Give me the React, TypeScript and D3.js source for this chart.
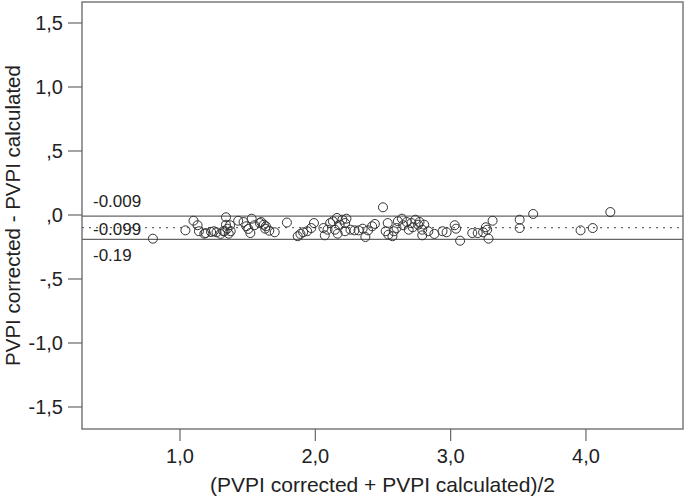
import * as d3 from 'd3';

// Bland-Altman style plot: mean of both methods vs difference
const meanValues = [
  0.80, 1.04, 1.10, 1.13, 1.14, 1.18, 1.19, 1.23, 1.25, 1.27,
  1.30, 1.32, 1.34, 1.34, 1.35, 1.33, 1.37, 1.375, 1.36, 1.43,
  1.47, 1.49, 1.505, 1.52, 1.53, 1.55, 1.59, 1.60, 1.62, 1.63,
  1.635, 1.66, 1.70, 1.79, 1.87, 1.89, 1.91, 1.94, 1.97, 1.99,
  2.06, 2.07, 2.09, 2.11, 2.13, 2.145, 2.16, 2.165, 2.18, 2.20,
  2.22, 2.23, 2.22, 2.26, 2.29, 2.32, 2.35, 2.37, 2.39, 2.42,
  2.44, 2.50, 2.52, 2.535, 2.54, 2.57, 2.58, 2.60, 2.61, 2.64,
  2.65, 2.675, 2.69, 2.71, 2.72, 2.74, 2.76, 2.77, 2.79, 2.79,
  2.805, 2.835, 2.88, 2.94, 2.97, 3.03, 3.04, 3.07, 3.16, 3.20,
  3.24, 3.26, 3.27, 3.28, 3.31, 3.51, 3.51, 3.61, 3.96, 4.05,
  4.18,
];

const diffValues = [
  -0.185, -0.120, -0.045, -0.080, -0.127, -0.146, -0.141, -0.133, -0.127, -0.135,
  -0.148, -0.127, -0.018, -0.076, -0.107, -0.127, -0.080, -0.127, -0.146, -0.045,
  -0.055, -0.088, -0.109, -0.141, -0.029, -0.080, -0.063, -0.055, -0.076, -0.107,
  -0.088, -0.123, -0.135, -0.059, -0.166, -0.148, -0.135, -0.127, -0.102, -0.063,
  -0.102, -0.159, -0.115, -0.063, -0.049, -0.115, -0.023, -0.146, -0.076, -0.037,
  -0.063, -0.029, -0.127, -0.115, -0.120, -0.120, -0.107, -0.172, -0.120, -0.088,
  -0.070, 0.060, -0.127, -0.063, -0.154, -0.166, -0.127, -0.102, -0.049, -0.029,
  -0.080, -0.055, -0.115, -0.063, -0.096, -0.037, -0.076, -0.055, -0.115, -0.159,
  -0.076, -0.127, -0.148, -0.127, -0.135, -0.080, -0.107, -0.201, -0.141, -0.141,
  -0.135, -0.096, -0.115, -0.185, -0.045, -0.037, -0.102, 0.008, -0.120, -0.102,
  0.023,
];

// reference lines: upper limit, mean difference, lower limit
const refValues = [-0.009, -0.099, -0.19];
const refLabels = ['-0.009', '-0.099', '-0.19'];
const refDashed = [false, true, false];

const xTicks = [1, 2, 3, 4];
const yTicks = [1.5, 1.0, 0.5, 0, -0.5, -1.0, -1.5];

const formatTick = (v: number, digits: number) => {
  const s = Math.abs(v).toFixed(digits).replace('.', ',');
  const t = Math.abs(v) < 1 ? s.replace(/^0/, '') : s;
  return (v < 0 ? '-' : '') + t;
};

const width = 685;
const height = 500;
const margin = { top: 2, right: 2, bottom: 71, left: 82 };
const font = '"Liberation Sans", Arial, sans-serif';

export default function App() {
  const x = d3.scaleLinear()
    .domain([0.276, 4.717])
    .range([margin.left, width - margin.right]);
  const y = d3.scaleLinear()
    .domain([-1.672, 1.664])
    .range([height - margin.bottom, margin.top]);

  const points = meanValues.map((m, i) => ({ m, d: diffValues[i] }));
  const [x0, x1] = x.range();
  const [yb, yt] = y.range();

  return (
    <svg
      width={width}
      height={height}
      style={{ position: 'absolute', left: 0, top: 0, background: '#fff' }}
      fontFamily={font}
    >
      {/* plot frame */}
      <rect x={x0} y={yt} width={x1 - x0} height={yb - yt} fill="none" stroke="#7a7a7a" strokeWidth={1.5} />

      {/* y axis */}
      {yTicks.map(t => (
        <g key={'y' + t}>
          <line x1={x0 - 14} x2={x0} y1={y(t)} y2={y(t)} stroke="#666" strokeWidth={1.2} />
          <text x={63} y={y(t) + 7} textAnchor="end" fontSize={20} fill="#222">
            {formatTick(t, 1)}
          </text>
        </g>
      ))}

      {/* x axis */}
      {xTicks.map(t => (
        <g key={'x' + t}>
          <line x1={x(t)} x2={x(t)} y1={yb} y2={yb + 12} stroke="#666" strokeWidth={1.2} />
          <text x={x(t)} y={463} textAnchor="middle" fontSize={20} fill="#222">
            {formatTick(t, 1)}
          </text>
        </g>
      ))}

      {/* reference lines */}
      {refValues.map((v, i) => (
        <line
          key={'r' + i}
          x1={x0}
          x2={x1}
          y1={y(v)}
          y2={y(v)}
          stroke="#666"
          strokeWidth={1.2}
          strokeDasharray={refDashed[i] ? '2,5' : undefined}
        />
      ))}

      {/* points */}
      {points.map((p, i) => (
        <circle
          key={'p' + i}
          cx={x(p.m)}
          cy={y(p.d)}
          r={4.5}
          fill="none"
          stroke="#333"
          strokeWidth={1}
        />
      ))}

      {/* reference line labels */}
      <text x={93} y={207} fontSize={17} fill="#222">{refLabels[0]}</text>
      <text x={93} y={235} fontSize={17} fill="#222">{refLabels[1]}</text>
      <text x={93} y={261} fontSize={17} fill="#222">{refLabels[2]}</text>

      {/* axis titles */}
      <text x={(x0 + x1) / 2} y={492} textAnchor="middle" fontSize={21} fill="#222">
        (PVPI corrected + PVPI calculated)/2
      </text>
      <text
        transform={`translate(20,${(yt + yb) / 2}) rotate(-90)`}
        textAnchor="middle"
        fontSize={20.5}
        fill="#222"
      >
        PVPI corrected - PVPI calculated
      </text>
    </svg>
  );
}
